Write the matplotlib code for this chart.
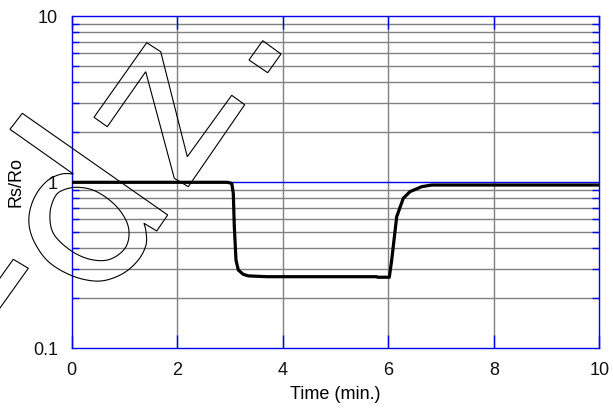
import numpy as np
import matplotlib
matplotlib.use("Agg")
from matplotlib import pyplot as plt
from matplotlib.patches import Polygon
from matplotlib.transforms import Affine2D
from matplotlib.ticker import LogLocator, NullFormatter, FixedLocator

plt.rcParams['font.family'] = ['Liberation Sans', 'DejaVu Sans']

# sensor response, Rs/Ro vs time
time_min = [0.0, 1.0, 2.0, 2.95, 3.033, 3.063, 3.082, 3.114, 3.158, 3.252,
            3.347, 3.70, 4.50, 5.78, 5.80, 6.02, 6.065, 6.16, 6.285, 6.411,
            6.634, 6.823, 8.0, 10.0]
rs_ro = [1.0, 1.0, 1.0, 1.0, 0.986, 0.858, 0.540, 0.340, 0.296, 0.279,
         0.273, 0.270, 0.270, 0.270, 0.268, 0.268, 0.340, 0.621, 0.801, 0.878,
         0.941, 0.963, 0.963, 0.963]

x_ticks = [0, 2, 4, 6, 8, 10]
y_ticks = [0.1, 1, 10]
y_ticklabels = ["0.1", "1", "10"]

BLUE = "#0000ee"
GRAY = "#808080"


def smooth(pts, closed=False, n=8):
    """Catmull-Rom pass through outline points so curves look round."""
    p = np.asarray(pts, float)
    if closed:
        p = np.vstack([p[-1], p, p[0], p[1]])
    else:
        p = np.vstack([p[0], p, p[-1]])
    out = []
    for i in range(1, len(p) - 2):
        p0, p1, p2, p3 = p[i - 1], p[i], p[i + 1], p[i + 2]
        for s in np.linspace(0, 1, n, endpoint=False):
            out.append(0.5 * ((2 * p1) + (-p0 + p2) * s
                              + (2 * p0 - 5 * p1 + 4 * p2 - p3) * s ** 2
                              + (-p0 + 3 * p1 - 3 * p2 + p3) * s ** 3))
    if not closed:
        out.append(p[-2])
    return np.array(out)


W, H = 613, 408
fig = plt.figure(figsize=(W / 100, H / 100), dpi=100)
ax = fig.add_axes([71.7 / W, 1 - 348.3 / H, (599.3 - 71.7) / W, (348.3 - 16.3) / H])

ax.set_yscale("log")
ax.set_xlim(0, 10)
ax.set_ylim(0.1, 10)

# grid: gray minor decades and x majors, blue decade line
ax.yaxis.set_minor_locator(LogLocator(base=10, subs=np.arange(2, 10)))
ax.yaxis.set_minor_formatter(NullFormatter())
ax.yaxis.set_major_locator(FixedLocator(y_ticks))
ax.set_yticklabels(y_ticklabels)
ax.set_xticks(x_ticks)
ax.set_xticklabels([str(x) for x in x_ticks])

for yv in np.concatenate([np.arange(2, 10) * 0.1, np.arange(2, 10) * 1.0]):
    ax.axhline(yv, color=GRAY, lw=1.0, zorder=1)
for xv in x_ticks[1:-1]:
    ax.axvline(xv, color=GRAY, lw=1.0, zorder=1)
ax.axhline(1, color=BLUE, lw=1.0, zorder=1.5)

ax.tick_params(which="both", direction="in", top=True, right=True,
               color=BLUE, width=1.0, labelsize=13, labelcolor="#111111")
ax.tick_params(axis="x", which="major", length=9.5, pad=10)
ax.tick_params(axis="y", which="major", length=0, pad=10)
ax.tick_params(axis="y", which="minor", length=5)
for s in ax.spines.values():
    s.set_color(BLUE)
    s.set_linewidth(1.0)

ax.plot(time_min, rs_ro, color="black", lw=2.3, zorder=5, solid_joinstyle="round")

ax.set_xlabel("Time (min.)", fontsize=13, labelpad=5)
ax.set_ylabel("Rs/Ro", fontsize=13, labelpad=6)

# outlined watermark letters, drawn in pixel coordinates from the top-left
px = Affine2D().scale(1 / W, -1 / H).translate(0, 1) + fig.transFigure
style = dict(fill=False, edgecolor="black", lw=0.8, transform=px, zorder=4)

bowl = smooth([(73.3, 174), (61.7, 174), (48.3, 180), (36.7, 193.3), (30, 210),
               (29.3, 226.7), (35, 243.3), (46.7, 260), (63.3, 271.7),
               (83.3, 279.3), (103.3, 280.7), (123.3, 273.3), (138.3, 260),
               (146, 245), (146, 231.7), (144, 223.3)])
d_outline = np.vstack([[(22.3, 113.3), (10, 129.3)], bowl,
                       [(156.7, 231), (167.7, 215)]])
fig.add_artist(Polygon(d_outline, closed=True, **style))

counter = smooth([(63.3, 190), (78.3, 187.3), (96.7, 191.7), (116.7, 206.7),
                  (128.3, 226.7), (126, 246.7), (110, 259.3), (90, 259.3),
                  (70, 250), (53.3, 233.3), (50, 213.3), (55, 196.7)], closed=True)
fig.add_artist(Polygon(counter, closed=True, **style))

z_outline = [(146.7, 42.7), (160.7, 51.7), (187.3, 156.7), (231.7, 95.3),
             (244.7, 104.7), (188.3, 186.7), (174.3, 178.3), (145.7, 71.7),
             (107.3, 126.7), (94, 117.3)]
fig.add_artist(Polygon(z_outline, closed=True, **style))

dot = [(262.7, 40.7), (281, 54), (267.7, 72.7), (249, 60)]
fig.add_artist(Polygon(dot, closed=True, **style))

stub = [(13.3, 259.3), (28.3, 268.3), (-10, 322), (-25, 313)]
fig.add_artist(Polygon(stub, closed=True, **style))

fig.savefig("out.png", dpi=100)
